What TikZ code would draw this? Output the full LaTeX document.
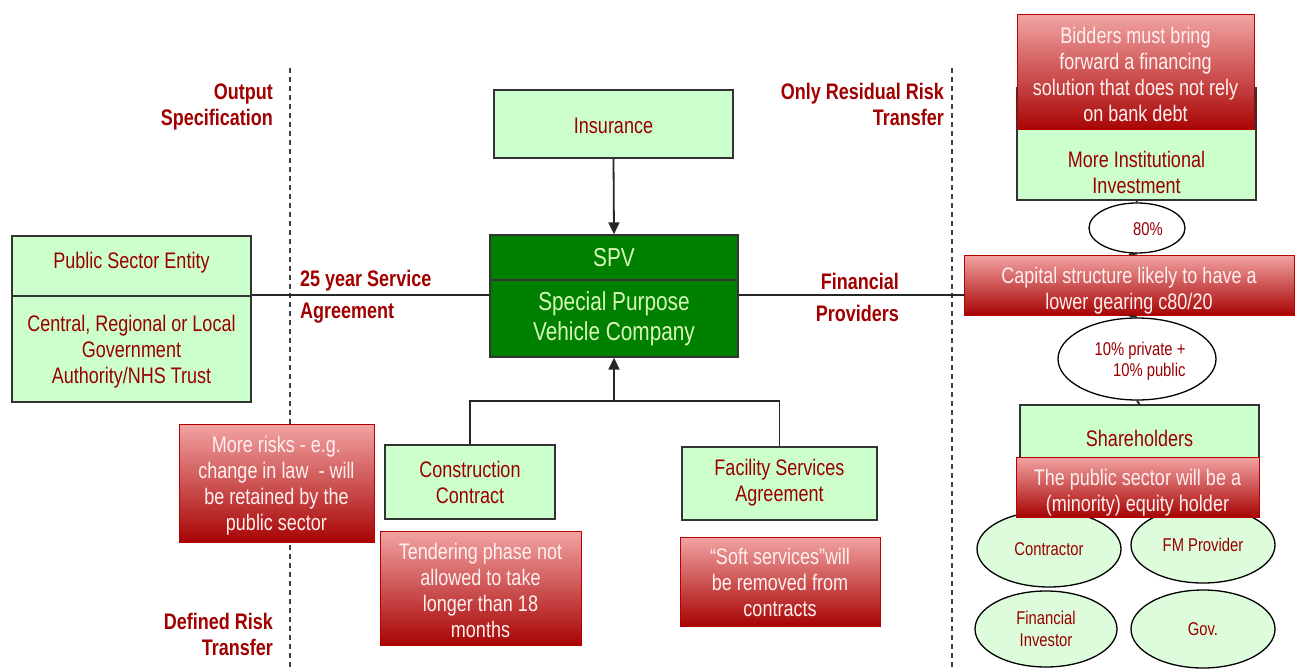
\documentclass[tikz,border=0pt]{standalone}
\usepackage{fontspec}
\setmainfont{Liberation Sans}[FakeStretch=0.8]
\usetikzlibrary{arrows.meta,shapes.geometric}
\definecolor{lbl}{HTML}{A00000}
\definecolor{boxtxt}{HTML}{990000}
\definecolor{mint}{HTML}{CCFFCC}
\definecolor{mintel}{HTML}{DCFCDC}
\definecolor{spvgreen}{HTML}{008000}
\definecolor{spvtxt}{HTML}{D8F8B8}
\definecolor{pinktop}{HTML}{F2A3A3}
\definecolor{redbot}{HTML}{A80404}
\definecolor{redline}{HTML}{B80000}
\definecolor{paletxt}{HTML}{FFF0F0}
\begin{document}
\begin{tikzpicture}[x=1pt,y=-1pt,
  every node/.style={inner sep=0pt,font=\fontsize{22.5}{26}\selectfont},
  greenbox/.style={draw=black!80,line width=1.4pt,fill=mint,text=boxtxt,align=center},
  notebox/.style={draw=redline,line width=1pt,top color=pinktop,bottom color=redbot,text=paletxt,align=center},
  gt/.style={text=boxtxt,align=center},
  wt/.style={text=paletxt,align=center},
  spvbox/.style={draw=black!80,line width=1.4pt,fill=spvgreen,text=spvtxt,align=center,font=\fontsize{26}{30}\selectfont},
  oval/.style={ellipse,draw=black,line width=1.3pt,fill=mintel,text=boxtxt,align=center,font=\fontsize{18.5}{22}\selectfont},
  pctoval/.style={ellipse,draw=black,line width=1.3pt,fill=white},
  heading/.style={text=lbl,font=\bfseries\fontsize{22.5}{26}\selectfont},
  link/.style={draw=black!85,line width=1.8pt},
  divider/.style={draw=black!75,line width=1.5pt,dash pattern=on 5pt off 4pt},
  tip/.style={-{Triangle[width=11pt,length=12pt]}}]
\useasboundingbox (0,0) rectangle (1295,671);

% vertical separators
\draw[divider] (290,68) -- (290,671);
\draw[divider] (952,68) -- (952,671);

% side headings
\node[heading,anchor=east,align=right] (outspec) at (273,107) {Output\\Specification};
\node[heading,anchor=east,align=right] (resid) at (944,104) {Only Residual Risk\\Transfer};
\node[heading,anchor=east,align=right] (defrisk) at (273,634) {Defined Risk\\Transfer};
\node[heading,anchor=west,align=left] (svc) at (300,297) {25 year Service\\[6pt]Agreement};
\node[heading,anchor=east,align=right] (finprov) at (899,297) {Financial\\[6pt]Providers};

% public sector entity
\node[greenbox,minimum width=239pt,minimum height=60pt] (pse) at (131.5,266) {\raisebox{11pt}{Public Sector Entity}};
\node[greenbox,minimum width=239pt,minimum height=106pt,
  label={[gt,yshift=-3pt]center:{Central, Regional or Local\\Government\\Authority/NHS Trust}}] (psb) at (131.5,349) {};

% SPV
\node[spvbox,minimum width=248pt,minimum height=45pt] (spvt) at (614,257.5) {SPV};
\node[spvbox,minimum width=248pt,minimum height=77pt] (spvb) at (614,318.5) {Special Purpose\\Vehicle Company};

% insurance
\node[greenbox,minimum width=239pt,minimum height=68pt,
  label={[gt,yshift=-2pt]center:Insurance}] (ins) at (613.5,124) {};

% contracts
\node[greenbox,minimum width=170pt,minimum height=74pt] (cc) at (470,482) {Construction\\Contract};
\node[greenbox,minimum width=195pt,minimum height=73pt,
  label={[gt,yshift=1pt]center:{Facility Services\\Agreement}}] (fs) at (779.5,483.5) {};

% risk notes
\node[notebox,minimum width=195pt,minimum height=118pt,
  label={[wt,yshift=-2.5pt]center:{More risks - e.g.\\change in law~ - will\\be retained by the\\public sector}}] (risks) at (276.5,483) {};
\node[notebox,minimum width=201pt,minimum height=114pt,
  label={[wt,yshift=-2.5pt]center:{Tendering phase not\\allowed to take\\longer than 18\\months}}] (tender) at (480.5,588) {};
\node[notebox,minimum width=200pt,minimum height=89pt,
  label={[wt,yshift=-1pt]center:{\textquotedblleft Soft services\textquotedblright will\\be removed from\\contracts}}] (soft) at (780,581.5) {};

% financing column
\node[greenbox,minimum width=239pt,minimum height=112pt,
  label={[gt,yshift=-28pt]center:{More Institutional\\Investment}}] (inst) at (1136.5,144) {};
\node[notebox,minimum width=237pt,minimum height=115pt,
  label={[wt,yshift=-2pt]center:{Bidders must bring\\forward a financing\\solution that does not rely\\on bank debt}}] (bidders) at (1135.5,72.5) {};
\node[pctoval,minimum width=96pt,minimum height=50pt,
  label={[text=boxtxt,font=\fontsize{18.5}{22}\selectfont,xshift=11pt,yshift=-1pt]center:80\%}] (e80) at (1137,228) {};
\node[notebox,minimum width=330pt,minimum height=60pt,
  label={[wt,yshift=-6pt]center:{Capital structure likely to have a\\lower gearing c80/20}}] (cap) at (1129,285) {};
\node[pctoval,minimum width=158pt,minimum height=82pt,
  label={[text=boxtxt,align=right,font=\fontsize{18.5}{21}\selectfont,xshift=3pt,yshift=-2.5pt]center:{10\% private +\\10\% public}}] (e10) at (1137,359) {};
\node[greenbox,minimum width=239pt,minimum height=70pt] (sh) at (1139.5,440) {\raisebox{4pt}{Shareholders}};

% shareholder types
\node[oval,minimum width=144pt,minimum height=76pt] (con) at (1049,549) {Contractor};
\node[oval,minimum width=144pt,minimum height=76pt] (fm) at (1203,545) {FM Provider};
\node[oval,minimum width=142pt,minimum height=76pt] (fi) at (1046,629) {Financial\\Investor};
\node[oval,minimum width=144pt,minimum height=78pt] (gov) at (1203,629) {Gov.};
\node[notebox,minimum width=243pt,minimum height=60pt,
  label={[wt,yshift=-6pt]center:{The public sector will be a\\(minority) equity holder}}] (pubeq) at (1137.5,487) {};

% connectors
\draw[link] (psb.north east) -- (psb.north east -| spvb.west);
\coordinate (fin) at (psb.north east -| spvb.east);
\draw[link] (fin) -- (fin -| cap.west);
\draw[link,tip] (ins.south) -- (spvt.north);
\coordinate (join) at (spvb.south |- 0,401);
\draw[link] (cc.north) |- (join) -| (fs.north);
\draw[link,tip] (join) -- (spvb.south);
\draw[link] (inst.south) -- (e80.north);
\draw[link] (e80.south) -- (cap.north);
\draw[link] (cap.south) -- (e10.north);
\draw[link] (e10.south) -- (sh.north);
\end{tikzpicture}
\end{document}
